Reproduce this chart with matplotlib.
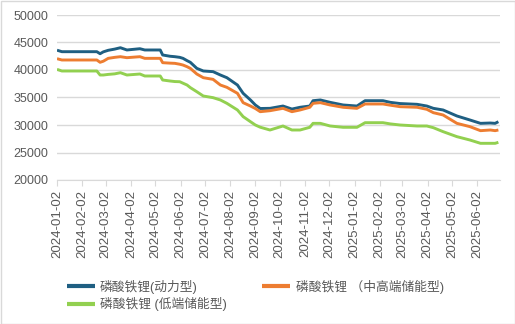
import matplotlib
matplotlib.use("Agg")
import matplotlib.pyplot as plt
import numpy as np
from matplotlib.patches import Rectangle

plt.rcParams['font.family'] = ['Liberation Sans', 'Noto Sans CJK SC', 'DejaVu Sans']

dates = ["2024-01-02","2024-01-08","2024-02-20","2024-02-24","2024-02-28","2024-03-05","2024-03-13",
         "2024-03-20","2024-03-28","2024-04-13","2024-04-19","2024-05-04","2024-05-08","2024-05-11",
         "2024-05-20","2024-05-26","2024-06-01","2024-06-05","2024-06-10","2024-06-14","2024-06-22",
         "2024-06-30","2024-07-12","2024-07-21","2024-07-29","2024-08-11","2024-08-18","2024-08-27",
         "2024-09-02","2024-09-08","2024-09-20","2024-10-06","2024-10-17","2024-10-27","2024-11-08",
         "2024-11-12","2024-11-21","2024-12-03","2024-12-19","2025-01-05","2025-01-15","2025-02-06",
         "2025-02-15","2025-02-27","2025-03-20","2025-04-01","2025-04-09","2025-04-21","2025-05-08",
         "2025-05-24","2025-06-06","2025-06-18","2025-06-24","2025-06-28"]

power = [43600,43330,43330,42960,43300,43580,43800,44050,43640,43870,43640,43640,43640,42730,
         42500,42420,42300,42120,41700,41400,40300,39820,39700,39090,38600,37270,35760,34550,
         33640,33000,33030,33450,32900,33220,33450,34420,34550,34120,33640,33450,34420,34420,
         34120,33900,33760,33450,33030,32730,31640,30910,30300,30360,30300,30600]

mid_high = [42060,41820,41820,41400,41600,42120,42300,42420,42240,42420,42120,42120,42120,41330,
            41250,41210,41050,40900,40600,40300,39270,38600,38300,37270,36850,35760,34060,33450,
            33000,32420,32600,33030,32420,32730,33220,33940,34060,33640,33220,33030,33820,33820,
            33600,33330,33220,32850,32240,31820,30300,29700,28970,29090,28970,29090]

low_end = [40120,39820,39820,39090,39090,39200,39300,39510,39090,39270,38910,38910,38910,38180,
           38000,37900,37870,37600,37270,36800,36050,35270,34970,34550,33940,32730,31520,30600,
           30000,29600,29090,29820,29090,29090,29580,30300,30300,29820,29580,29580,30420,30420,
           30200,30000,29820,29820,29510,28790,27880,27270,26670,26670,26670,26850]

labels = ["磷酸铁锂(动力型)", "磷酸铁锂 （中高端储能型)", "磷酸铁锂 (低端储能型)"]
colors = ["#1F5F82", "#ED7D31", "#92D050"]
tick_dates = ["2024-01-02","2024-02-02","2024-03-02","2024-04-02","2024-05-02","2024-06-02",
              "2024-07-02","2024-08-02","2024-09-02","2024-10-02","2024-11-02","2024-12-02",
              "2025-01-02","2025-02-02","2025-03-02","2025-04-02","2025-05-02","2025-06-02"]
yticks = [20000, 25000, 30000, 35000, 40000, 45000, 50000]

W, H = 515, 324
fig = plt.figure(figsize=(W/100, H/100), dpi=100)
fig.patches.append(Rectangle((0.5/W, 0.5/H), 1-1/W, 1-1/H, transform=fig.transFigure,
                             fill=False, edgecolor="#D9D9D9", linewidth=1))
ax = fig.add_axes([57/W, 1-180/H, (500-57)/W, (180-15)/H])

x = np.array(dates, dtype="datetime64[D]").astype("O")
lines = []
for vals, c, lab in zip([power, mid_high, low_end], colors, labels):
    l, = ax.plot(x, vals, color=c, lw=2.1, label=lab, solid_capstyle='butt')
    lines.append(l)

ax.set_ylim(20000, 50000)
ax.set_yticks(yticks)
ax.set_xlim(np.datetime64("2024-01-02").astype("O"), np.datetime64("2025-06-30").astype("O"))
tx = np.array(tick_dates, dtype="datetime64[D]").astype("O")
ax.set_xticks(tx)
ax.set_xticklabels(tick_dates, rotation=90)
ax.grid(axis='y', color="#D9D9D9", lw=1)
ax.set_axisbelow(True)
for s in ['left', 'right', 'top']:
    ax.spines[s].set_visible(False)
ax.spines['bottom'].set_color("#D9D9D9")
ax.tick_params(axis='y', length=0, labelsize=9, labelcolor="#595959", pad=6)
ax.tick_params(axis='x', length=4, color="#D9D9D9", labelsize=9.5, labelcolor="#595959", pad=3)

handles = [lines[0], lines[2], lines[1]]
fig.legend(handles, [labels[0], labels[2], labels[1]], ncol=2, frameon=False,
           loc='upper left', bbox_to_anchor=(55/W, 1-268/H), fontsize=9.2,
           handlelength=2.2, handletextpad=0.4, columnspacing=2.8, labelspacing=0.3,
           labelcolor="#595959")
for l in fig.legends[0].get_lines():
    l.set_linewidth(3)

fig.savefig("out.png", dpi=100)
